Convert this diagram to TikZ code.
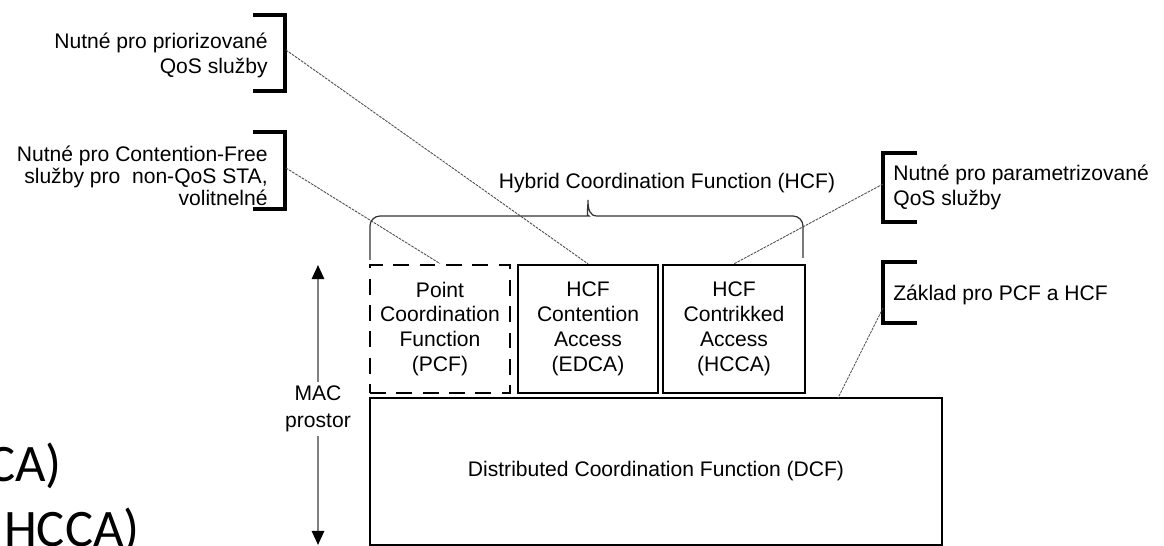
\documentclass[tikz,border=0pt]{standalone}
\usepackage{fontspec}
\setmainfont{Liberation Sans}
\newfontfamily\slidefont{Carlito}
\usetikzlibrary{arrows.meta}

\begin{document}
\begin{tikzpicture}[x=0.02cm, y=-0.02cm, >={Triangle[length=8pt,width=7pt,color=black]},
  every node/.style={inner sep=0pt, font=\fontsize{12}{14.2}\selectfont},
  box/.style={draw, line width=1.3pt, align=center, minimum width=2.8cm, minimum height=2.56cm},
  brkt/.style={line width=1.8pt},
  lead/.style={gray!60!black, line width=0.5pt, dash pattern=on 1.5pt off 0.6pt},
  brace/.style={gray!40!black, line width=0.7pt}]
  \useasboundingbox (0,0) rectangle (1164,546);
  \clip (0,0) rectangle (1164,546);

  % Nodes
  \node[box, dash pattern=on 9pt off 6pt, line width=1.6pt] (pcf) at (440,329) {Point\\Coordination\\Function\\(PCF)};
  \node[box] (edca) at (588,329) {HCF\\Contention\\Access\\(EDCA)};
  \node[box, minimum width=2.84cm] (hcca) at (734,329) {HCF\\Contrikked\\Access\\(HCCA)};
  \node[box, minimum width=11.44cm, minimum height=2.94cm] (dcf) at (656,471.5) {Distributed Coordination Function (DCF)};
  \node (hcf) at (667,183) {Hybrid Coordination Function (HCF)};
  \node[anchor=east, align=right] (prio) at (268,55) {Nutné pro priorizované\\QoS služby};
  \node[anchor=east, align=right, font=\fontsize{12}{12.5}\selectfont] (cfree) at (268,176) {Nutné pro Contention-Free\\služby pro\ \ non-QoS STA,\\volitnelné};
  \node[anchor=west, align=left] (param) at (893,187) {Nutné pro parametrizované\\QoS služby};
  \node[anchor=west] (zaklad) at (893,295) {Základ pro PCF a HCF};
  \node[fill=white, align=center, inner sep=2pt, font=\fontsize{12}{15.3}\selectfont] (mac) at (318,409) {MAC\\prostor};
  \node[anchor=base east, font=\slidefont\fontsize{30}{30}\selectfont] (cut1) at (62,482) {CA)};
  \node[anchor=base east, font=\slidefont\fontsize{30}{30}\selectfont] (cut2) at (140,547) {HCCA)};

  % Brackets
  \draw[brkt] (253,15) -- (285,15) -- (285,91) -- (253,91);
  \draw[brkt] (253,132) -- (285,132) -- (285,209) -- (253,209);
  \draw[brkt] (917,153) -- (883,153) -- (883,222) -- (917,222);
  \draw[brkt] (917,262) -- (883,262) -- (883,323) -- (917,323);
  \coordinate (b1) at (286,50);
  \coordinate (b2) at (286,168);
  \coordinate (b3) at (883,184);
  \coordinate (b4) at (883,308);
  \coordinate (dcfpt) at (838,398);

  % Brace
  \draw[brace] (370,260) [rounded corners=0.2cm] -- (370,216) -- (579,216) [sharp corners]
    .. controls (586,216) and (588,210) .. (588,200)
    .. controls (588,210) and (590,216) .. (597,216) [rounded corners=0.2cm] -- (803,216) -- (803,258);

  % Arrows
  \draw[lead] (b1) -- (edca.north);
  \draw[lead] (b2) -- (pcf.north);
  \draw[lead] (b3) -- (hcca.north);
  \draw[lead] (b4) -- (dcfpt);
  \coordinate (mactop) at (318,265);
  \coordinate (macbot) at (318,545);
  \draw[->, gray, line width=1.2pt] (mac) -- (mactop);
  \draw[->, gray, line width=1.2pt] (mac) -- (macbot);
\end{tikzpicture}
\end{document}
